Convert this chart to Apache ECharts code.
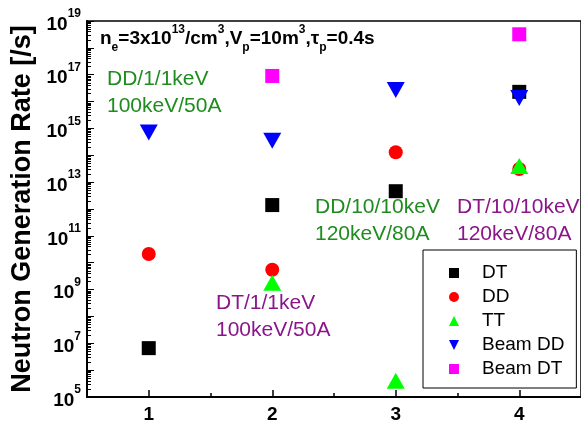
<!DOCTYPE html>
<html>
<head>
<meta charset="utf-8">
<script src="https://cdn.jsdelivr.net/npm/echarts@6/dist/echarts.min.js"></script>
<style>html,body{margin:0;padding:0;background:#fff;}#c{width:581px;height:428px;}</style>
</head>
<body>
<div id="c"></div>
<script>
// ---- data ----
const xPositions = [1, 2, 3, 4];
const xTickLabels = [1, 2, 3, 4];
const xMinorTicks = [1.5, 2.5, 3.5];
const DT     = [6.6e6, 1.4e12, 4.6e12, 2.3e16];
const DD     = [2.1e10, 5.5e9, 1.3e14, 3.1e13];
const TT     = [null, 1.8e9, 4.0e5, 4.0e13];
const BeamDD = [7.0e14, 3.5e14, 2.7e16, 1.35e16];
const BeamDT = [null, 9.0e16, null, 3.2e18];
const seriesNames = ['DT', 'DD', 'TT', 'Beam DD', 'Beam DT'];
const yDecades = [5,6,7,8,9,10,11,12,13,14,15,16,17,18,19];
const yLabelExps = [5,7,9,11,13,15,17,19];
const minorMultipliers = [2,3,4,5,6,7,8,9];

const FONT = '"Liberation Sans", Arial, sans-serif';

function toPts(arr){
  const out = [];
  arr.forEach((v,i)=>{ if(v!=null) out.push([xPositions[i], Math.log10(v)]); });
  return out;
}
const minorVals = [];
yDecades.slice(0,-1).forEach(d => minorMultipliers.forEach(m => minorVals.push(d + Math.log10(m))));

const chart = echarts.init(document.getElementById('c'), null, {renderer:'canvas'});

const supRich = {
  b: {fontSize: 19, fontWeight: 'bold', fontFamily: FONT, color: '#000', lineHeight: 26, verticalAlign: 'bottom'},
  s: {fontSize: 12, fontWeight: 'bold', fontFamily: FONT, color: '#000', lineHeight: 12, verticalAlign: 'top'}
};
const titleRich = {
  m: {fontSize: 19, fontWeight: 'bold', fontFamily: FONT, fill: '#000', lineHeight: 30, verticalAlign: 'middle'},
  p: {fontSize: 12, fontWeight: 'bold', fontFamily: FONT, fill: '#000', lineHeight: 8, verticalAlign: 'top'},
  d: {fontSize: 12, fontWeight: 'bold', fontFamily: FONT, fill: '#000', lineHeight: 16, verticalAlign: 'bottom'}
};

const green = '#1e8c1e', purple = '#8a168a';
function note(text, x, y, color){
  return {type:'text', left: x, top: y, z: 50,
    style:{text: text, fill: color, font: '21px ' + FONT, lineHeight: 27}};
}

const symbolDefs = [
  {data: DT, symbol: 'rect', size: 14, color: '#000000', rotate: 0, icon: 'rect'},
  {data: DD, symbol: 'circle', size: 14, color: '#ff0000', rotate: 0, icon: 'circle'},
  {data: TT, symbol: 'triangle', size: [18,16], color: '#00ff00', rotate: 0, icon: 'triangle'},
  {data: BeamDD, symbol: 'triangle', size: [18,16], color: '#0000ff', rotate: 180, icon: 'path://M0,0 L10,0 L5,10 Z'},
  {data: BeamDT, symbol: 'rect', size: 14, color: '#ff00ff', rotate: 0, icon: 'rect'}
];

const option = {
  animation: false,
  backgroundColor: '#fff',
  textStyle: {fontFamily: FONT},
  grid: {left: 87, top: 21, right: -2, bottom: 31, show: true, borderColor: '#000', borderWidth: 1.5, backgroundColor: 'transparent'},
  xAxis: [
    {type: 'value', min: 0.5, max: 4.5, position: 'bottom',
      axisLine: {show: true, onZero: false, lineStyle: {color: '#000', width: 2}},
      axisTick: {show: true, inside: true, length: 7, lineStyle: {color:'#000', width: 1.5}, customValues: xTickLabels},
      axisLabel: {show: true, margin: 8, customValues: xTickLabels, color: '#000', fontSize: 19, fontWeight: 'bold', fontFamily: FONT},
      splitLine: {show: false}},
    {type: 'value', min: 0.5, max: 4.5, position: 'bottom',
      axisLine: {show: false, onZero: false},
      axisTick: {show: true, inside: true, length: 4, lineStyle: {color:'#000', width: 1.5}, customValues: xMinorTicks},
      axisLabel: {show: false}, splitLine: {show: false}}
  ],
  yAxis: [
    {type: 'value', min: 5, max: 19, position: 'left',
      name: 'Neutron Generation Rate [/s]', nameLocation: 'middle', nameGap: 50, nameRotate: 90,
      nameTextStyle: {fontSize: 27, fontWeight: 'bold', color: '#000', fontFamily: FONT},
      axisLine: {show: true, onZero: false, lineStyle: {color: '#000', width: 2}},
      axisTick: {show: true, inside: true, length: 7, lineStyle: {color:'#000', width: 1}, customValues: yDecades},
      axisLabel: {show: true, margin: 6, customValues: yLabelExps,
        formatter: v => '{b|10}{s|' + Math.round(v) + '}', rich: supRich},
      splitLine: {show: false}},
    {type: 'value', min: 5, max: 19, position: 'left',
      axisLine: {show: false, onZero: false},
      axisTick: {show: true, inside: true, length: 4, lineStyle: {color:'#000', width: 1}, customValues: minorVals},
      axisLabel: {show: false}, splitLine: {show: false}}
  ],
  legend: {
    orient: 'vertical', left: 423, top: 250,
    data: seriesNames.map((n, i) => ({name: n, icon: symbolDefs[i].icon})),
    itemWidth: 10, itemHeight: 10, itemGap: 4,
    padding: [13, 12, 9, 26],
    borderColor: '#000', borderWidth: 1, backgroundColor: '#fff',
    formatter: name => '{t|' + name + '}',
    textStyle: {fontSize: 19, color: '#000', fontFamily: FONT, lineHeight: 20,
      rich: {t: {fontSize: 19, color: '#000', fontFamily: FONT, lineHeight: 20, padding: [0, 0, 0, 18]}}},
    z: 20
  },
  series: symbolDefs.map((d, i) => ({
    name: seriesNames[i], type: 'scatter', xAxisIndex: 0, yAxisIndex: 0,
    data: toPts(d.data), symbol: d.symbol, symbolSize: d.size, symbolRotate: d.rotate,
    itemStyle: {color: d.color, opacity: 1}, z: 3 + i
  })),
  graphic: [
    {type: 'text', left: 100, top: 24, z: 50,
      style: {text: '{m|n}{d|e}{m|=3x10}{p|13}{m|/cm}{p|3}{m|,V}{d|p}{m|=10m}{p|3}{m|,τ}{d|p}{m|=0.4s}', rich: titleRich}},
    note('DD/1/1keV\n100keV/50A', 107, 66, green),
    note('DD/10/10keV\n120keV/80A', 315, 194, green),
    note('DT/10/10keV\n120keV/80A', 457, 194, purple),
    note('DT/1/1keV\n100keV/50A', 216, 290, purple)
  ]
};
chart.setOption(option);
</script>
</body>
</html>
